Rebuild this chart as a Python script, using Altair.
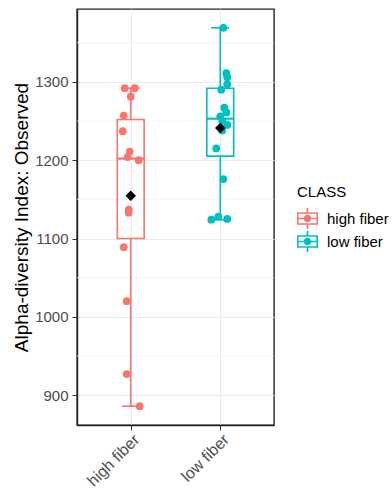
import altair as alt
import pandas as pd

classes = ["high fiber", "low fiber"]
colors = ["#F8766D", "#00BFC4"]

high_values = [1292, 1292, 1281, 1257, 1237, 1211, 1204, 1200, 1137, 1133, 1089, 1020, 927, 886]
high_jitter = [-0.067, 0.045, 0.0, -0.078, -0.089, -0.011, -0.034, 0.089, -0.022, -0.022, -0.078, -0.045, -0.045, 0.10]
low_values = [1369, 1311, 1306, 1297, 1290, 1267, 1261, 1256, 1250, 1245, 1238, 1215, 1176, 1128, 1125, 1124]
low_jitter = [0.034, 0.067, 0.078, 0.078, 0.011, 0.045, 0.067, 0.0, 0.022, 0.078, 0.022, -0.045, 0.034, -0.022, 0.078, -0.10]

y_ticks = [900, 1000, 1100, 1200, 1300]
y_minor = [950, 1050, 1150, 1250, 1350]

rows = []
for i, (vals, jit) in enumerate([(high_values, high_jitter), (low_values, low_jitter)]):
    for v, j in zip(vals, jit):
        rows.append({"CLASS": classes[i], "idx": i + 1, "value": v, "jit": j})
df = pd.DataFrame(rows)
minor_df = pd.DataFrame({"m": y_minor})

label_expr = " : ".join(
    [f"datum.value == {i + 1} ? '{c}'" for i, c in enumerate(classes)] + ["''"]
)

xscale = alt.Scale(domain=[0.4, 2.6], nice=False, zero=False)
yscale = alt.Scale(domain=[862, 1393], nice=False, zero=False)
cscale = alt.Scale(domain=classes, range=colors)

x_axis = alt.Axis(values=[1, 2], labelExpr=label_expr, title=None, labelAngle=315,
                  labelAlign="right", labelBaseline="top", grid=True, gridColor="#EBEBEB",
                  labelFontSize=16, labelColor="#4D4D4D", tickColor="#333333", tickSize=5,
                  domainColor="#222222", domainWidth=1.4, labelPadding=1,
                  labelOverlap=False, labelBound=False, labelFlush=False)
y_axis = alt.Axis(values=y_ticks, format="d", title="Alpha-diversity Index: Observed", grid=True,
                  gridColor="#EBEBEB", labelFontSize=15, labelColor="#4D4D4D",
                  tickColor="#333333", tickSize=5, domainColor="#222222", domainWidth=1.4,
                  titleFontSize=19, titleFontWeight="normal", titleColor="#000000",
                  titlePadding=3, labelPadding=4)

base = alt.Chart(df)

minor = alt.Chart(minor_df).mark_rule(color="#F2F2F2", strokeWidth=0.8).encode(
    y=alt.Y("m:Q", scale=yscale, axis=y_axis)
)

stats = base.transform_joinaggregate(
    q1="q1(value)", q3="q3(value)", groupby=["CLASS"]
).transform_calculate(
    lo="datum.q1 - 1.5 * (datum.q3 - datum.q1)",
    hi="datum.q3 + 1.5 * (datum.q3 - datum.q1)",
).transform_filter(
    "datum.value >= datum.lo && datum.value <= datum.hi"
).transform_aggregate(
    wmin="min(value)", wmax="max(value)", q1="min(q1)", q3="min(q3)",
    groupby=["CLASS", "idx"]
).transform_calculate(
    bl="datum.idx - 0.15", br="datum.idx + 0.15",
    cl="datum.idx - 0.1", cr="datum.idx + 0.1",
)

legend_path = (
    "M-1,-0.6H1V0.6H-1Z "
    "M-0.85,-0.45V0.45H0.85V-0.45Z "
    "M-0.85,-0.08H0.85V0.08H-0.85Z "
    "M-0.08,-1H0.08V-0.6H-0.08Z "
    "M-0.08,0.6H0.08V1H-0.08Z "
    "M-0.36,0A0.36,0.36 0 1,1 0.36,0A0.36,0.36 0 1,1 -0.36,0Z"
)

legend = alt.Legend(
    title="CLASS", orient="none", legendX=220, legendY=176,
    symbolType=legend_path, symbolSize=441, symbolStrokeWidth=0,
    symbolOpacity=1, titleFontSize=15, titleFontWeight="normal",
    titleColor="#000000", labelFontSize=15, labelColor="#000000",
    rowPadding=2, labelOffset=9, titlePadding=8, padding=0,
)

color_enc = alt.Color("CLASS:N", scale=cscale, legend=legend)

whisk_lo = stats.mark_rule(strokeWidth=1.6).encode(
    x=alt.X("idx:Q", scale=xscale, axis=x_axis),
    y=alt.Y("wmin:Q", scale=yscale), y2="q1:Q",
    color=color_enc,
)
whisk_hi = stats.mark_rule(strokeWidth=1.6).encode(
    x=alt.X("idx:Q", scale=xscale),
    y=alt.Y("q3:Q", scale=yscale), y2="wmax:Q",
    color=color_enc,
)
cap_lo = stats.mark_rule(strokeWidth=1.6).encode(
    x=alt.X("cl:Q", scale=xscale), x2="cr:Q",
    y=alt.Y("wmin:Q", scale=yscale),
    color=color_enc,
)
cap_hi = stats.mark_rule(strokeWidth=1.6).encode(
    x=alt.X("cl:Q", scale=xscale), x2="cr:Q",
    y=alt.Y("wmax:Q", scale=yscale),
    color=color_enc,
)
box = stats.mark_rect(fillOpacity=0, strokeWidth=1.6).encode(
    x=alt.X("bl:Q", scale=xscale), x2="br:Q",
    y=alt.Y("q1:Q", scale=yscale), y2="q3:Q",
    stroke=alt.Stroke("CLASS:N", scale=cscale, legend=None),
)

med = base.transform_aggregate(
    med="median(value)", avg="mean(value)", groupby=["CLASS", "idx"]
).transform_calculate(bl="datum.idx - 0.15", br="datum.idx + 0.15")

median_rule = med.mark_rule(strokeWidth=2.2).encode(
    x=alt.X("bl:Q", scale=xscale), x2="br:Q",
    y=alt.Y("med:Q", scale=yscale),
    color=color_enc,
)

points = base.transform_calculate(xj="datum.idx + datum.jit").mark_circle(
    size=60, opacity=1
).encode(
    x=alt.X("xj:Q", scale=xscale),
    y=alt.Y("value:Q", scale=yscale),
    color=color_enc,
)

mean_pt = med.mark_point(shape="diamond", filled=True, size=110, color="black", opacity=1).encode(
    x=alt.X("idx:Q", scale=xscale),
    y=alt.Y("avg:Q", scale=yscale),
)

chart = alt.layer(
    minor, whisk_lo, whisk_hi, cap_lo, cap_hi, box, median_rule, points, mean_pt
).properties(
    width=197, height=416,
    autosize=alt.AutoSizeParams(type="none"),
    padding={"left": 77, "top": 9, "right": 118, "bottom": 63},
).configure(
    font="Liberation Sans"
).configure_view(
    stroke="#222222", strokeWidth=1.4
)

chart.save("out.html", embed_options={"renderer": "svg", "actions": False})
